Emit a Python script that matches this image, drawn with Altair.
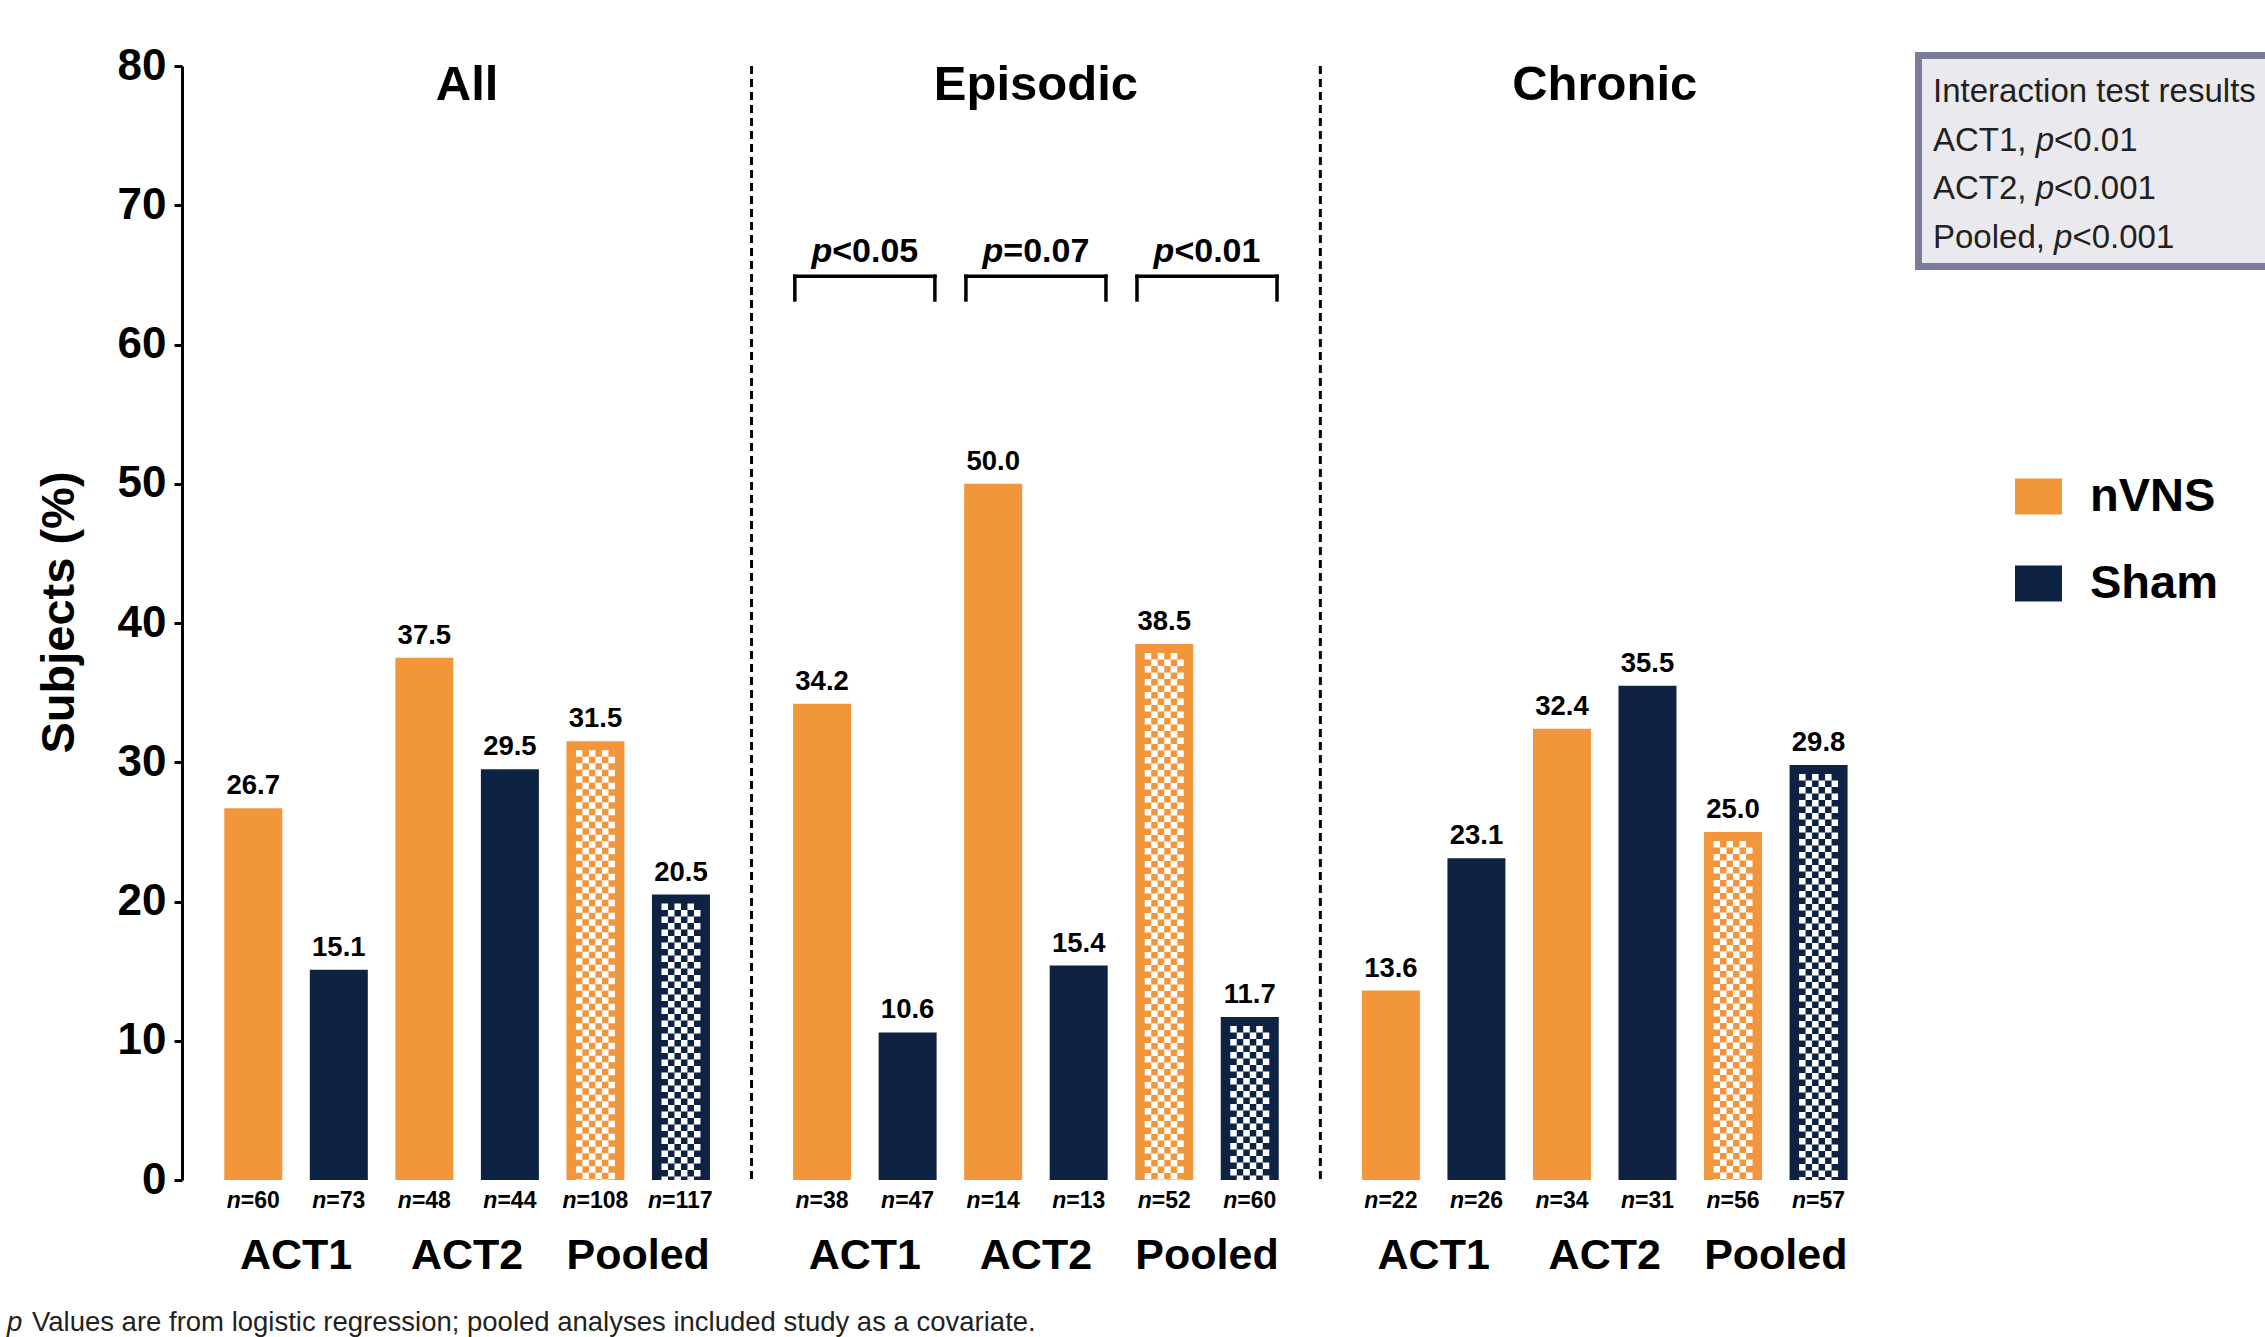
import altair as alt
import pandas as pd

# ---- data -------------------------------------------------------------
SECTIONS = ["All", "Episodic", "Chronic"]
STUDIES = ["ACT1", "ACT2", "Pooled"]
ARMS = ["nVNS", "Sham"]

# per section, bars ordered: ACT1 nVNS, ACT1 Sham, ACT2 nVNS, ACT2 Sham, Pooled nVNS, Pooled Sham
PCT_ALL = [26.7, 15.1, 37.5, 29.5, 31.5, 20.5]
PCT_EPISODIC = [34.2, 10.6, 50.0, 15.4, 38.5, 11.7]
PCT_CHRONIC = [13.6, 23.1, 32.4, 35.5, 25.0, 29.8]

N_ALL = [60, 73, 48, 44, 108, 117]
N_EPISODIC = [38, 47, 14, 13, 52, 60]
N_CHRONIC = [22, 26, 34, 31, 56, 57]

# p-values for nVNS vs sham within the episodic subgroup
EPISODIC_P = ["<0.05", "=0.07", "<0.01"]

INTERACTION_TITLE = "Interaction test results"
INTERACTION_ROWS = [("ACT1", "<0.01"), ("ACT2", "<0.001"), ("Pooled", "<0.001")]

FOOTNOTE_REST = "Values are from logistic regression; pooled analyses included study as a covariate."

Y_TICKS = [0, 10, 20, 30, 40, 50, 60, 70, 80]

# ---- styling / layout ---------------------------------------------------
ORANGE = "#F2963C"
NAVY = "#0E2244"
FONT = "Liberation Sans"

PLOT_W, PLOT_H = 1710, 1114
PAD_L, PAD_T = 182, 66
CANVAS_W, CANVAS_H = 2265, 1337

SECTION_STEP = 6.65          # slot distance between the first bars of two sections
X_DOMAIN = [-0.775, 19.1]
BAR_W = 58
CELL = 6.5                   # checker cell size on pooled bars
BRACKET_TOP = 64.9
BRACKET_LEG = 63.2

# Arial/Liberation advance widths (1/1000 em) used to butt italic and upright text together
BOLD_W = {**{d: 556 for d in "0123456789"}, "=": 584, "<": 584, ".": 278, "n": 611, "p": 611}
REG_W = {**{d: 556 for d in "0123456789"}, "A": 667, "C": 722, "T": 611, "P": 667, "o": 556,
         "l": 222, "e": 556, "d": 556, ",": 278, " ": 278, "p": 556, "<": 584, ".": 278}


def width(s, table, size):
    return sum(table[c] for c in s) * size / 1000.0


pct = {"All": PCT_ALL, "Episodic": PCT_EPISODIC, "Chronic": PCT_CHRONIC}
nsub = {"All": N_ALL, "Episodic": N_EPISODIC, "Chronic": N_CHRONIC}

rows = []
for si, sec in enumerate(SECTIONS):
    for j in range(6):
        rows.append({
            "section": sec,
            "study": STUDIES[j // 2],
            "arm": ARMS[j % 2],
            "pct": pct[sec][j],
            "nrest": "=" + str(nsub[sec][j]),
            "pos": si * SECTION_STEP + j,
        })
bars = pd.DataFrame(rows)
pooled = bars[bars["study"] == "Pooled"]

xs = alt.Scale(domain=X_DOMAIN, nice=False, zero=False)
ys = alt.Scale(domain=[0, 80], nice=False)
X = alt.X("pos:Q", scale=xs, axis=alt.Axis(labels=False, ticks=False, grid=False, title=None,
                                            domainWidth=3, domainColor="black", zindex=1))
Y_AXIS = alt.Axis(values=Y_TICKS, grid=False, title="Subjects (%)", titleFont=FONT,
                  titleFontSize=47, titleFontWeight="bold", titleColor="black", titlePadding=34,
                  titleY=546,
                  labelFont=FONT, labelFontSize=44, labelFontWeight="bold", labelColor="black",
                  labelPadding=8, tickSize=8, tickWidth=3, tickColor="black",
                  domainWidth=3, domainColor="black", zindex=1)

layers = []

# bars
layers.append(
    alt.Chart(bars).mark_bar(size=BAR_W, orient="vertical").encode(
        x=X,
        y=alt.Y("pct:Q", scale=ys, axis=Y_AXIS, stack=None),
        color=alt.Color("arm:N", scale=alt.Scale(domain=ARMS, range=[ORANGE, NAVY]),
                        legend=alt.Legend(title=None, orient="none", legendX=1833, legendY=407,
                                          symbolType="M-1,-0.766H1V0.766H-1Z", symbolSize=2209,
                                          symbolStrokeWidth=0, symbolOpacity=1,
                                          labelFont=FONT, labelFontSize=47, labelFontWeight="bold",
                                          labelColor="black", labelOffset=28, rowPadding=39,
                                          padding=0)),
    )
)

# checkerboard fill on pooled bars: white dashed columns, alternating phase
for k in range(6):
    layers.append(
        alt.Chart(pooled).mark_rule(color="white", strokeWidth=CELL, strokeDash=[CELL, CELL],
                                    strokeDashOffset=CELL if k % 2 else 0, strokeCap="butt",
                                    xOffset=(k - 2.5) * CELL, yOffset=9).encode(
            x=X, y=alt.Y("pct:Q", scale=ys), y2=alt.datum(0)
        )
    )

# value labels
layers.append(
    alt.Chart(bars).mark_text(font=FONT, fontSize=27.5, fontWeight="bold", color="black",
                              baseline="alphabetic", dy=-14).encode(
        x=X, y=alt.Y("pct:Q", scale=ys), text=alt.Text("pct:Q", format=".1f")
    )
)

# n= labels under the axis (italic n + upright rest)
N_FS = 23
for L in sorted(bars["nrest"].str.len().unique()):
    sub = bars[bars["nrest"].str.len() == L]
    rest_w = width(sub["nrest"].iloc[0], BOLD_W, N_FS)
    n_w = width("n", BOLD_W, N_FS)
    split = n_w - (n_w + rest_w) / 2
    layers.append(
        alt.Chart(sub).mark_text(font=FONT, fontSize=N_FS, fontWeight="bold", fontStyle="italic",
                                 color="black", align="right", baseline="alphabetic",
                                 dx=split, dy=28, text="n").encode(x=X, y=alt.datum(0))
    )
    layers.append(
        alt.Chart(sub).mark_text(font=FONT, fontSize=N_FS, fontWeight="bold", color="black",
                                 align="left", baseline="alphabetic", dx=split, dy=28).encode(
            x=X, y=alt.datum(0), text="nrest:N")
    )

# study labels
study_df = pd.DataFrame([{"study": st, "pos": si * SECTION_STEP + 2 * k + 0.5}
                         for si in range(3) for k, st in enumerate(STUDIES)])
layers.append(
    alt.Chart(study_df).mark_text(font=FONT, fontSize=43, fontWeight="bold", color="black",
                                  baseline="alphabetic", dy=89).encode(
        x=X, y=alt.datum(0), text="study:N")
)

# section titles
sec_df = pd.DataFrame([{"section": s, "pos": si * SECTION_STEP + 2.5} for si, s in enumerate(SECTIONS)])
layers.append(
    alt.Chart(sec_df).mark_text(font=FONT, fontSize=49, fontWeight="bold", color="black",
                                baseline="alphabetic").encode(
        x=X, y=alt.value(34), text="section:N")
)

# dashed dividers midway between sections
div_df = pd.DataFrame({"pos": [5 + (SECTION_STEP - 5) / 2, SECTION_STEP + 5 + (SECTION_STEP - 5) / 2]})
layers.append(
    alt.Chart(div_df).mark_rule(color="black", strokeWidth=3, strokeDash=[8, 5]).encode(
        x=X, y=alt.datum(80), y2=alt.datum(0))
)

# significance brackets in the episodic section
epi = bars[bars["section"] == "Episodic"]
br_df = pd.DataFrame({
    "pos": epi[epi["arm"] == "nVNS"]["pos"].values,
    "pos2": epi[epi["arm"] == "Sham"]["pos"].values,
    "prest": EPISODIC_P,
})
br_df["mid"] = (br_df["pos"] + br_df["pos2"]) / 2
half = BAR_W / 2
layers.append(
    alt.Chart(br_df).mark_rule(color="black", strokeWidth=3.5, xOffset=-half, x2Offset=half).encode(
        x=X, x2="pos2:Q", y=alt.datum(BRACKET_TOP))
)
layers.append(
    alt.Chart(br_df).mark_rule(color="black", strokeWidth=3.5, strokeCap="square",
                               xOffset=-half + 1.75).encode(
        x=X, y=alt.datum(BRACKET_TOP), y2=alt.datum(BRACKET_LEG))
)
layers.append(
    alt.Chart(br_df).mark_rule(color="black", strokeWidth=3.5, strokeCap="square",
                               xOffset=half - 1.75).encode(
        x=alt.X("pos2:Q", scale=xs, axis=None), y=alt.datum(BRACKET_TOP), y2=alt.datum(BRACKET_LEG))
)
P_FS = 34
p_w = width("p", BOLD_W, P_FS)
p_split = p_w - (p_w + width(EPISODIC_P[0], BOLD_W, P_FS)) / 2
layers.append(
    alt.Chart(br_df).mark_text(font=FONT, fontSize=P_FS, fontWeight="bold", fontStyle="italic",
                               color="black", align="right", baseline="alphabetic",
                               dx=p_split, dy=-14, text="p").encode(
        x=alt.X("mid:Q", scale=xs, axis=None), y=alt.datum(BRACKET_TOP))
)
layers.append(
    alt.Chart(br_df).mark_text(font=FONT, fontSize=P_FS, fontWeight="bold", color="black",
                               align="left", baseline="alphabetic", dx=p_split, dy=-14).encode(
        x=alt.X("mid:Q", scale=xs, axis=None), y=alt.datum(BRACKET_TOP), text="prest:N")
)

# interaction test box (top right)
one = pd.DataFrame({"k": [0]})
layers.append(
    alt.Chart(one).mark_rect(fill="#E9E9EE", stroke="#7B7C99", strokeWidth=7).encode(
        x=alt.value(1736.5), x2=alt.value(2300), y=alt.value(-10.5), y2=alt.value(200.5))
)
BOX_FS = 33
BOX_X = 1751
BOX_Y0, BOX_DY = 36, 48.5
layers.append(
    alt.Chart(one).mark_text(font=FONT, fontSize=BOX_FS, color="#231F20", align="left",
                             baseline="alphabetic", text=INTERACTION_TITLE).encode(
        x=alt.value(BOX_X), y=alt.value(BOX_Y0))
)
for i, (study, pv) in enumerate(INTERACTION_ROWS):
    prefix = study + ", "
    yb = BOX_Y0 + BOX_DY * (i + 1)
    xp = BOX_X + width(prefix, REG_W, BOX_FS)
    xr = xp + width("p", REG_W, BOX_FS)
    layers.append(alt.Chart(one).mark_text(font=FONT, fontSize=BOX_FS, color="#231F20", align="left",
                                           baseline="alphabetic", text=prefix).encode(
        x=alt.value(BOX_X), y=alt.value(yb)))
    layers.append(alt.Chart(one).mark_text(font=FONT, fontSize=BOX_FS, color="#231F20", align="left",
                                           baseline="alphabetic", fontStyle="italic", text="p").encode(
        x=alt.value(xp), y=alt.value(yb)))
    layers.append(alt.Chart(one).mark_text(font=FONT, fontSize=BOX_FS, color="#231F20", align="left",
                                           baseline="alphabetic", text=pv).encode(
        x=alt.value(xr), y=alt.value(yb)))

# footnote
FOOT_FS = 27.5
FOOT_X = 7 - PAD_L
layers.append(alt.Chart(one).mark_text(font=FONT, fontSize=FOOT_FS, color="#231F20", align="left",
                                       baseline="alphabetic", fontStyle="italic", text="p").encode(
    x=alt.value(FOOT_X), y=alt.value(1265)))
layers.append(alt.Chart(one).mark_text(font=FONT, fontSize=FOOT_FS, color="#231F20", align="left",
                                       baseline="alphabetic", text=FOOTNOTE_REST).encode(
    x=alt.value(FOOT_X + width("p ", REG_W, FOOT_FS) + 2), y=alt.value(1265)))

chart = alt.layer(*layers).properties(
    width=PLOT_W, height=PLOT_H,
    autosize=alt.AutoSizeParams(type="none"),
    padding={"left": PAD_L, "top": PAD_T,
             "right": CANVAS_W - PAD_L - PLOT_W, "bottom": CANVAS_H - PAD_T - PLOT_H},
    background="white",
).configure_view(stroke=None)

chart.save("out.html", embed_options={"renderer": "svg", "actions": False})
